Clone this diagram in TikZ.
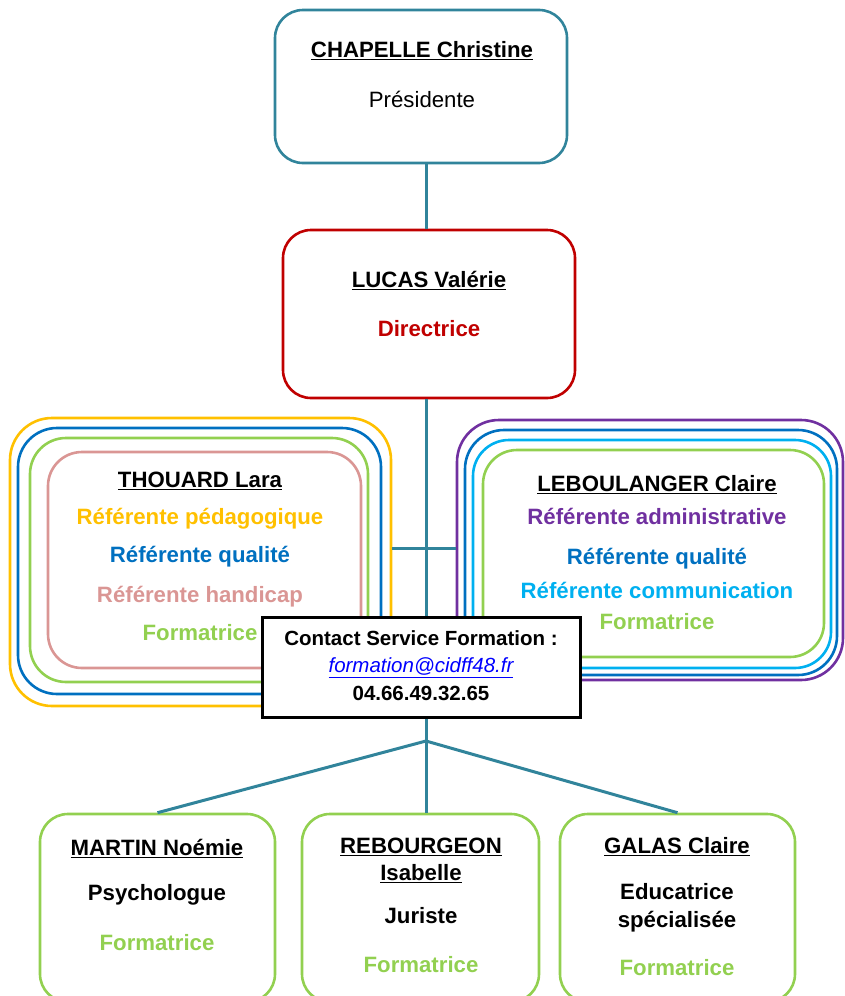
\documentclass[tikz,border=0pt]{standalone}
\usepackage{fontspec}
\setmainfont{Liberation Sans}
\usetikzlibrary{positioning}
\definecolor{cTeal}{HTML}{31849B}
\definecolor{cRed}{HTML}{C00000}
\definecolor{cGold}{HTML}{FFC000}
\definecolor{cBlue}{HTML}{0070C0}
\definecolor{cGreen}{HTML}{92D050}
\definecolor{cPink}{HTML}{DA9694}
\definecolor{cPurple}{HTML}{7030A0}
\definecolor{cSky}{HTML}{00B0F0}
\definecolor{cLink}{HTML}{0000FF}

\begin{document}
\begin{tikzpicture}[x=1pt, y=-1pt,
  frame/.style={draw, line width=2.6pt, rounded corners=28pt, inner sep=0pt},
  ring/.style={draw, line width=2.6pt, rounded corners=36pt, inner sep=0pt},
  link/.style={draw=cTeal, line width=3pt},
  txt/.style={font=\fontsize{22.2}{27}\selectfont\bfseries, text height=17.8pt, text depth=2pt, inner sep=0pt},
  small/.style={font=\fontsize{20.5}{25}\selectfont\bfseries}]
\useasboundingbox (0,0) rectangle (845,996);
\clip (0,0) rectangle (845,996);

\node[ring, draw=cGold, rounded corners=42pt, minimum width=381pt, minimum height=288pt] (yel) at (200.5,562) {};
\node[ring, draw=cBlue, rounded corners=39pt, minimum width=363pt, minimum height=266pt] (blu) at (199.5,561) {};
\node[ring, draw=cGreen, minimum width=338pt, minimum height=244pt] (grn) at (199,560) {};
\node[ring, draw=cPink, rounded corners=34pt, minimum width=313pt, minimum height=216pt] (pnk) at (204.5,560) {};

\node[ring, draw=cPurple, rounded corners=42pt, minimum width=386pt, minimum height=260pt] (pur) at (650,550) {};
\node[ring, draw=cBlue, rounded corners=39pt, minimum width=372pt, minimum height=245pt] (dbl) at (651,552.5) {};
\node[ring, draw=cSky, minimum width=358pt, minimum height=228pt] (sky) at (652,554) {};
\node[ring, draw=cGreen, rounded corners=34pt, minimum width=341pt, minimum height=207pt] (lgr) at (653.5,553.5) {};

\node[frame, draw=cTeal, minimum width=292pt, minimum height=153pt] (pres) at (421,86.5) {};
\node[frame, draw=cRed, minimum width=292pt, minimum height=168pt] (dir) at (429,314) {};
\node[frame, draw=cGreen, minimum width=235pt, minimum height=188pt] (martin) at (157.5,908) {};
\node[frame, draw=cGreen, minimum width=237pt, minimum height=188pt] (rebour) at (420.5,908) {};
\node[frame, draw=cGreen, minimum width=235pt, minimum height=188pt] (galas) at (677.5,908) {};

\coordinate (spine) at (426,741);
\coordinate (bar) at (426,548);
\draw[link] (pres.south -| spine) -- (dir.north -| spine);
\draw[link] (dir.south -| spine) -- (spine);
\draw[link] (yel.east |- bar) -- (pur.west |- bar);
\draw[link] (spine) -- (martin.north);
\draw[link] (spine) -- (spine |- rebour.north);
\draw[link] (spine) -- (galas.north);

\node[draw=black, line width=3pt, fill=white, minimum width=318pt, minimum height=100pt, inner sep=0pt] (contact) at (421,667) {};

\node[txt] (pres-name) at (422,50) {\underline{CHAPELLE Christine}};
\node[txt, font=\fontsize{22.2}{27}\selectfont] (pres-role) at (422,100) {Présidente};
\node[txt] (dir-name) at (429,280) {\underline{LUCAS Valérie}};
\node[txt, text=cRed] (dir-role) at (429,329) {Directrice};

\node[txt] (thou-name) at (200,480) {\underline{THOUARD Lara}};
\node[txt, text=cGold] (thou-ped) at (200,517) {Référente pédagogique};
\node[txt, text=cBlue] (thou-qual) at (200,555) {Référente qualité};
\node[txt, text=cPink] (thou-hand) at (200,595) {Référente handicap};
\node[txt, text=cGreen] (thou-form) at (200,633) {Formatrice};

\node[txt] (leb-name) at (657,484) {\underline{LEBOULANGER Claire}};
\node[txt, text=cPurple] (leb-adm) at (657,517) {Référente administrative};
\node[txt, text=cBlue] (leb-qual) at (657,557) {Référente qualité};
\node[txt, text=cSky] (leb-com) at (657,591) {Référente communication};
\node[txt, text=cGreen] (leb-form) at (657,622) {Formatrice};

\node[txt, small] (contact-title) at (421,638) {Contact Service Formation :};
\node[txt, font=\fontsize{20.5}{25}\selectfont\itshape, text=cLink] (contact-mail) at (421,665) {\underline{formation@cidff48.fr}};
\node[txt, small] (contact-tel) at (421,693) {04.66.49.32.65};

\node[txt] (martin-name) at (157,848) {\underline{MARTIN Noémie}};
\node[txt] (martin-job) at (157,893) {Psychologue};
\node[txt, text=cGreen] (martin-form) at (157,943) {Formatrice};

\node[txt] (rebour-name) at (421,846) {\underline{REBOURGEON}};
\node[txt] (rebour-name2) at (421,873) {\underline{Isabelle}};
\node[txt] (rebour-job) at (421,916) {Juriste};
\node[txt, text=cGreen] (rebour-form) at (421,965) {Formatrice};

\node[txt] (galas-name) at (677,846) {\underline{GALAS Claire}};
\node[txt] (galas-job) at (677,892) {Educatrice};
\node[txt] (galas-job2) at (677,920) {spécialisée};
\node[txt, text=cGreen] (galas-form) at (677,968) {Formatrice};
\end{tikzpicture}
\end{document}
